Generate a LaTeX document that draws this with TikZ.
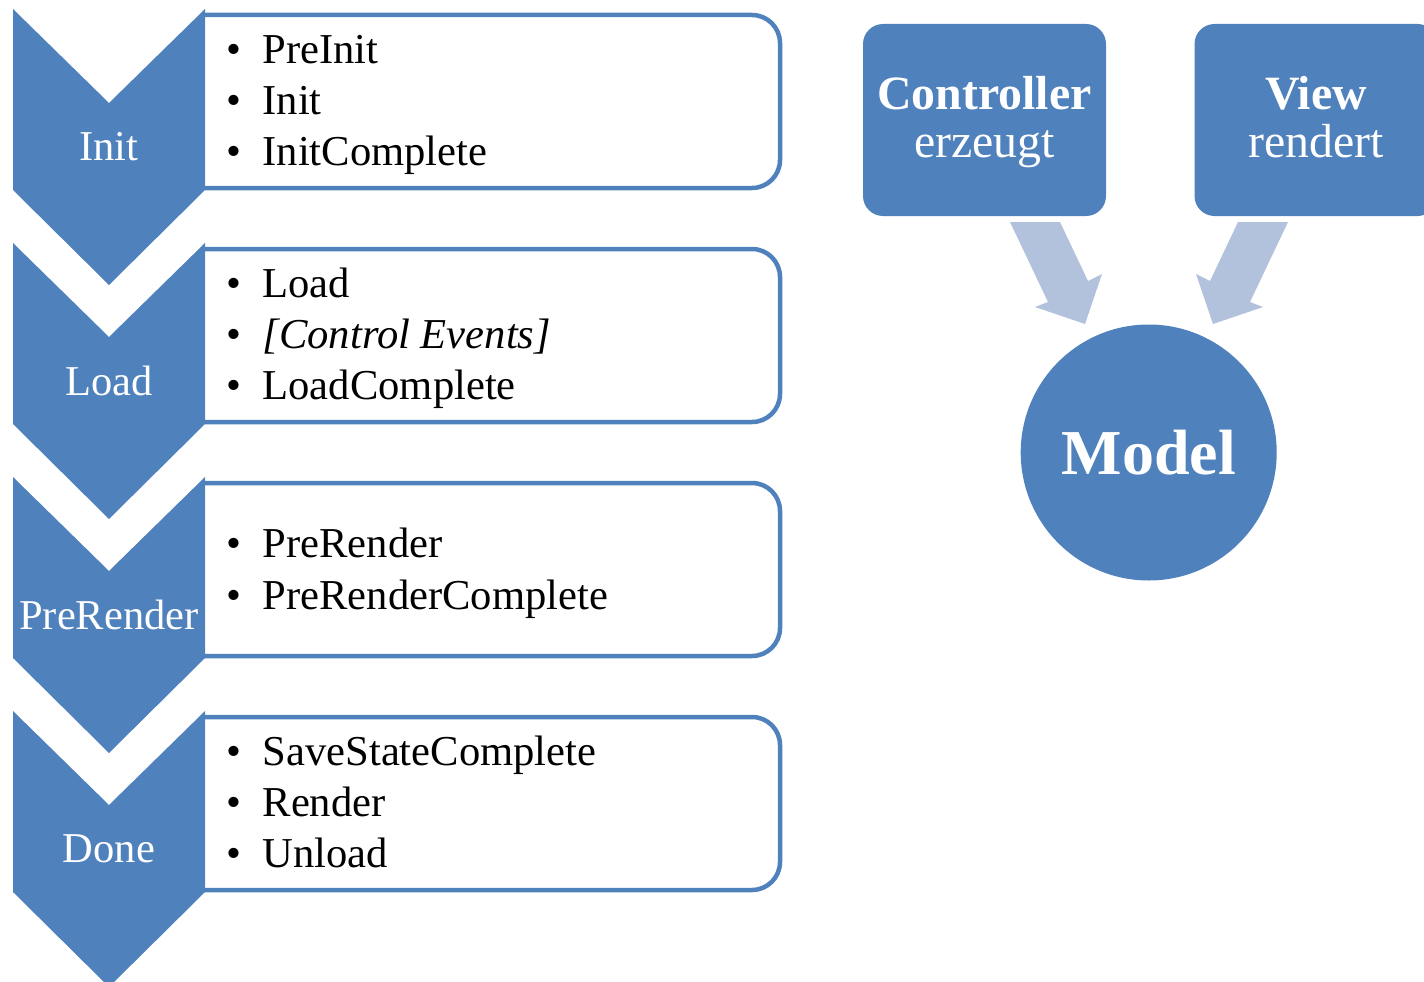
\documentclass[tikz,border=0pt]{standalone}
\usepackage{fontspec}
\setmainfont{Liberation Serif}
\definecolor{mblue}{RGB}{79,129,189}
\definecolor{lblue}{RGB}{178,194,221}
\newcommand{\itembul}{\makebox[36pt][l]{\textbullet}}
\begin{document}
\begin{tikzpicture}[x=1pt,y=-1pt,
  chevshape/.style={fill=mblue},
  listbox/.style={draw=mblue,line width=4.5pt,fill=white,rounded corners=28pt},
  chevlabel/.style={text=white,inner sep=0pt,font=\fontsize{42.5}{50}\selectfont},
  items/.style={anchor=base west,inner sep=0pt,font=\fontsize{42.6}{51.2}\selectfont},
  topbox/.style={fill=mblue,rounded corners=20pt,minimum width=243pt,minimum height=192pt,inner sep=0pt},
  toptext/.style={anchor=base,inner sep=0pt,text=white,font=\fontsize{47.8}{48.4}\selectfont},
  bigarrow/.style={fill=lblue}
]
\useasboundingbox (0,0) rectangle (1424,982);
\clip (0,0) rectangle (1424,982);

% process: boxes, chevrons, labels
\foreach \t/\lab/\nm in {9/Init/c1,243/Load/c2,477/PreRender/c3,711/Done/c4}{
  \draw[listbox] (205,\t+6) -- (780,\t+6) -- (780,\t+179) -- (205,\t+179);
  \fill[chevshape] (13,\t) -- (109,\t+94) -- (205,\t) -- (205,\t+181) -- (109,\t+276) -- (13,\t+181) -- cycle;
  \node[chevlabel] (\nm) at (109,\t+138) {\lab};
}

\node[items] (l1) at (226.5,63.3) {\begin{tabular}[t]{@{}l@{}}\itembul PreInit\\ \itembul Init\\ \itembul InitComplete\end{tabular}};
\node[items] (l2) at (226.5,297.3) {\begin{tabular}[t]{@{}l@{}}\itembul Load\\ \itembul \textit{[Control Events]}\\ \itembul LoadComplete\end{tabular}};
\node[items] (l3) at (226.5,557.9) {\begin{tabular}[t]{@{}l@{}}\itembul PreRender\\ \itembul PreRenderComplete\end{tabular}};
\node[items] (l4) at (226.5,765.3) {\begin{tabular}[t]{@{}l@{}}\itembul SaveStateComplete\\ \itembul Render\\ \itembul Unload\end{tabular}};

% MVC
\node[topbox] (ctrl) at (984.5,120) {};
\node[toptext] (ctrltext) at (984.5,109.3) {\begin{tabular}[t]{@{}c@{}}\bfseries Controller\\ erzeugt\end{tabular}};
\node[topbox] (view) at (1316,120) {};
\node[toptext] (viewtext) at (1316,109.3) {\begin{tabular}[t]{@{}c@{}}\bfseries View\\ rendert\end{tabular}};
\node[circle,fill=mblue,minimum size=256pt,inner sep=0pt,text=white,font=\fontsize{64}{70}\selectfont\bfseries] (model) at (1148.7,452.5) {Model};

\fill[bigarrow] (1010,222) -- (1060,222) -- (1088,281) -- (1102,274) -- (1085,324) -- (1035,307) -- (1048,302) -- cycle;
\fill[bigarrow] (1288,222) -- (1238,222) -- (1210,281) -- (1196,274) -- (1213,324) -- (1263,307) -- (1250,302) -- cycle;
\end{tikzpicture}
\end{document}
